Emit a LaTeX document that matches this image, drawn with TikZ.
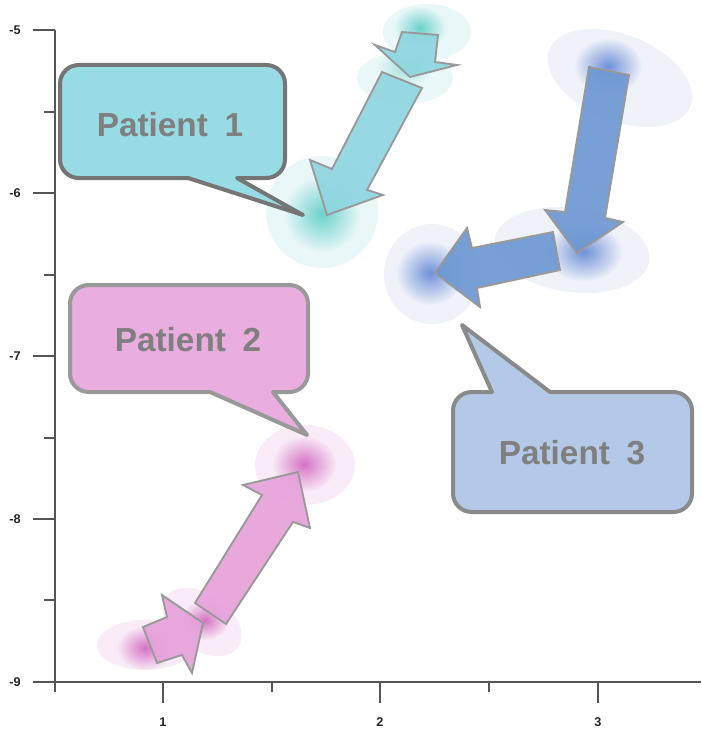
\documentclass[tikz,border=0pt]{standalone}
\usepackage{fontspec}
\setmainfont{Liberation Sans}
\usetikzlibrary{fadings}
\tikzfading[name=glow, inner color=transparent!0, outer color=transparent!100]
\definecolor{cyanfill}{HTML}{8ED6E0}
\definecolor{cyancore}{HTML}{4CC8C0}
\definecolor{pinkfill}{HTML}{E6A2DA}
\definecolor{pinkcore}{HTML}{CC55B6}
\definecolor{bluefill}{HTML}{6D97D3}
\definecolor{bluecore}{HTML}{5079D0}
\definecolor{bubblecyan}{HTML}{97DCE4}
\definecolor{bubblepink}{HTML}{E9AEDF}
\definecolor{bubbleblue}{HTML}{B3C9E7}
\definecolor{txtgray}{HTML}{7F7F7F}
\definecolor{edgegray}{HTML}{757575}
\definecolor{edgelight}{HTML}{999999}
\definecolor{axisgray}{HTML}{555555}
\definecolor{halocyan}{HTML}{E6F6F8}
\definecolor{halopink}{HTML}{F9E8F6}
\definecolor{haloblue}{HTML}{EDF0F9}
\tikzset{
  axisline/.style={draw=axisgray, line width=1.5pt},
  ticklbl/.style={font=\bfseries\fontsize{9.5}{11}\selectfont, text=black!85},
  ptxt/.style={font=\bfseries\fontsize{25}{28}\selectfont, text=txtgray},
  bubble/.style={line width=3pt, line join=round},
  blockarrow/.style={draw=edgelight, line width=1.4pt, line join=miter, fill opacity=0.92},
  halo/.style={fill opacity=0.85},
  core/.style={path fading=glow, fill opacity=0.8}
}
\begin{document}
\begin{tikzpicture}[x=0.75pt,y=-0.75pt]
\useasboundingbox (0,0) rectangle (701,731);
\fill[white] (0,0) rectangle (701,731);

% axes
\draw[axisline] (55,30) -- (55,692);
\draw[axisline] (55,682) -- (701,682);
\foreach \yy/\lab in {30/-5,193/-6,356/-7,519/-8,682/-9}{
  \draw[axisline] (33,\yy) -- (55,\yy);
  \node[ticklbl] (yl\lab) at (15,\yy) {\lab};
}
\foreach \yy in {112,275,438,600}{ \draw[axisline] (44,\yy) -- (55,\yy); }
\foreach \xx/\lab in {163/1,380/2,598/3}{
  \draw[axisline] (\xx,682) -- (\xx,703);
  \node[ticklbl] (xl\lab) at (\xx,722) {\lab};
}
\foreach \xx in {272,489}{ \draw[axisline] (\xx,682) -- (\xx,692); }

% glows patient 1
\fill[halocyan, halo] (427,32) ellipse [x radius=44, y radius=28];
\fill[halocyan, halo] (405,78) ellipse [x radius=48, y radius=26];
\fill[cyancore, core] (420,28) ellipse [x radius=26, y radius=22];
\fill[cyancore!60, core] (405,68) ellipse [x radius=28, y radius=18];
\fill[halocyan, halo] (322,212) circle [radius=56];
\fill[cyancore, core] (322,214) circle [radius=38];

% glows patient 3
\fill[haloblue, halo, rotate around={-22:(620,78)}] (620,78) ellipse [x radius=76, y radius=43];
\fill[bluecore, core] (608,66) ellipse [x radius=34, y radius=28];
\fill[haloblue, halo, rotate around={-8:(572,250)}] (572,250) ellipse [x radius=78, y radius=42];
\fill[bluecore, core] (584,252) ellipse [x radius=38, y radius=30];
\fill[haloblue, halo] (432,274) ellipse [x radius=48, y radius=50];
\fill[bluecore, core] (430,273) ellipse [x radius=34, y radius=32];

% glows patient 2
\fill[halopink, halo] (305,465) ellipse [x radius=50, y radius=40];
\fill[pinkcore, core] (304,464) ellipse [x radius=32, y radius=28];
\fill[halopink, halo, rotate around={-35:(202,622)}] (202,622) ellipse [x radius=44, y radius=28];
\fill[pinkcore, core] (205,620) ellipse [x radius=24, y radius=20];
\fill[halopink, halo] (145,645) ellipse [x radius=48, y radius=25];
\fill[pinkcore, core] (145,648) ellipse [x radius=28, y radius=22];

% arrows
\fill[cyanfill, blockarrow] (402,32) -- (438,35) -- (435,62) -- (457,65) -- (410,77) -- (375,45) -- (395,52) -- cycle;
\fill[cyanfill, blockarrow] (382,72) -- (422,88) -- (367,190) -- (383,195) -- (327,215) -- (310,160) -- (332,169) -- cycle;
\fill[bluefill, blockarrow] (589,67) -- (629,75) -- (605,218) -- (623,222) -- (577,253) -- (545,210) -- (565,212) -- cycle;
\fill[bluefill, blockarrow] (553,232) -- (560,270) -- (477,288) -- (480,307) -- (435,273) -- (467,228) -- (472,248) -- cycle;
\fill[pinkfill, blockarrow] (195,603) -- (226,624) -- (293,522) -- (310,528) -- (298,472) -- (243,485) -- (262,495) -- cycle;
\fill[pinkfill, blockarrow] (143,627) -- (167,617) -- (162,595) -- (203,623) -- (192,673) -- (182,655) -- (157,663) -- cycle;

% callouts
\coordinate (tip1) at (303,215);
\coordinate (tip2) at (307,435);
\coordinate (tip3) at (462,325);
\draw[bubble, fill=bubblecyan, draw=edgegray] (60,120) [rounded corners=14pt] -- (60,65) -- (285,65) -- (285,178) [sharp corners] -- (237,178) -- (tip1) -- (188,178) [rounded corners=14pt] -- (60,178) -- cycle;
\draw[bubble, fill=bubblepink, draw=edgelight] (70,340) [rounded corners=14pt] -- (70,285) -- (308,285) -- (308,392) [sharp corners] -- (273,392) -- (tip2) -- (210,392) [rounded corners=14pt] -- (70,392) -- cycle;
\draw[bubble, fill=bubbleblue, draw=edgegray!85] (453,450) [rounded corners=14pt] -- (453,392) [sharp corners] -- (492,392) -- (tip3) -- (550,392) [rounded corners=14pt] -- (692,392) -- (692,512) -- (453,512) -- cycle;

\node[ptxt] (p1) at (170,125) {Patient\enspace 1};
\node[ptxt] (p2) at (188,340) {Patient\enspace 2};
\node[ptxt] (p3) at (572,453) {Patient\enspace 3};
\end{tikzpicture}
\end{document}
